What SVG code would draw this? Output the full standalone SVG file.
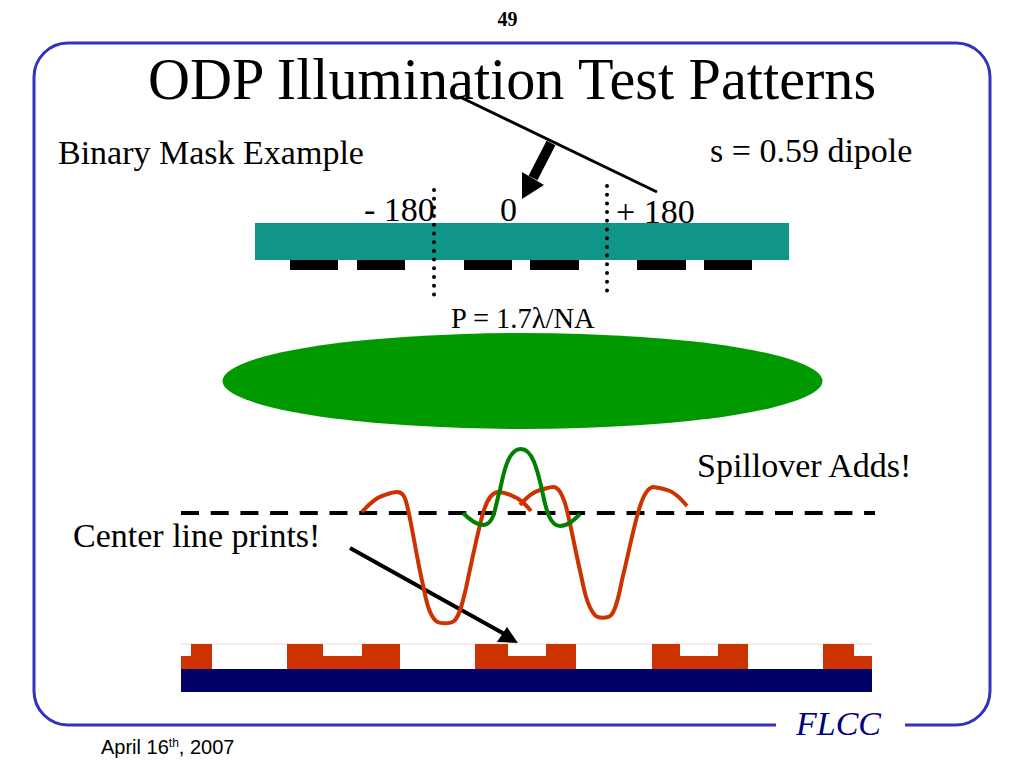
<svg xmlns="http://www.w3.org/2000/svg" width="1024" height="768" viewBox="0 0 1024 768">
<style>
text{font-family:"Liberation Serif","Times New Roman",serif;fill:#000}
.frame{fill:none;stroke:#3333bb;stroke-width:3}
.dots{fill:none;stroke:#000;stroke-width:4;stroke-linecap:round;stroke-dasharray:0 8.7}
.red{fill:none;stroke:#cc3300;stroke-width:4}
.green{fill:none;stroke:#008000;stroke-width:4}
.mask{fill:#000}
.resist{fill:#cc3300}
.big{font-size:34px}
</style>
<rect width="1024" height="768" fill="#fff"/>
<g id="frame"><path class="frame" d="M776 725H68A34 34 0 0 1 34 691V77A34 34 0 0 1 68 43H956A34 34 0 0 1 990 77V691A34 34 0 0 1 956 725H905"/></g>
<g id="page-number"><text x="507.500" y="26" font-size="20" font-weight="bold" text-anchor="middle">49</text></g>
<g id="title"><text x="148" y="99" font-size="58.200">ODP Illumination Test Patterns</text></g>
<g id="labels">
<text class="big" x="58" y="164">Binary Mask Example</text>
<text class="big" x="710" y="162">s = 0.59 dipole</text>
<text class="big" x="364" y="221">- 180</text>
<text class="big" x="500" y="221">0</text>
<text class="big" x="616" y="223">+ 180</text>
<text x="451" y="328" font-size="28.500">P = 1.7λ/NA</text>
<text class="big" x="697" y="477">Spillover Adds!</text>
<text class="big" x="73" y="547">Center line prints!</text>
</g>
<g id="mask">
<rect x="255" y="223" width="534" height="37" fill="#0f9688"/>
<rect class="mask" x="290" y="260" width="48" height="10"/>
<rect class="mask" x="357" y="260" width="48" height="10"/>
<rect class="mask" x="464" y="260" width="48" height="10"/>
<rect class="mask" x="530" y="260" width="49" height="10"/>
<rect class="mask" x="637" y="260" width="49" height="10"/>
<rect class="mask" x="704" y="260" width="48" height="10"/>
</g>
<g id="lens"><ellipse cx="522.500" cy="381" rx="300" ry="48" fill="#009900"/></g>
<g id="wafer">
<rect x="181" y="669" width="691" height="23" fill="#000066"/>
<path d="M181 644H872" stroke="#ecd8d0" stroke-width="1" fill="none"/>
<path class="resist" d="M181 669V656H191V644H212V669ZM287 669V644H323V656H362V644H400V669ZM475 669V644H508V656H546V644H576V669ZM652 669V644H680V656H718V644H748V669ZM823 669V644H854V656H872V669Z"/>
</g>
<g id="connectors">
<path class="dots" d="M434 190V296"/>
<path class="dots" d="M607 186V292"/>
<path d="M460 97L657 192" stroke="#000" stroke-width="3" fill="none"/>
<path d="M551 143L533 178" stroke="#000" stroke-width="10" fill="none"/>
<polygon points="522,199 522,172 544,185" fill="#000"/>
<path d="M181 513H875" stroke="#000" stroke-width="4" stroke-dasharray="18 11.700" fill="none"/>
<path d="M350 548L508 636" stroke="#000" stroke-width="4" fill="none"/>
<polygon points="518,643 497,642 507,627" fill="#000"/>
</g>
<g id="curves">
<path class="red" d="M362 512C370 503 376 498 382 496C388 494 392 492 397 492C403 492 405 497 407 505C412 525 417 560 423 585C426 600 429 615 436 621C440 624 450 624 454 621C460 616 463 600 466 588C471 565 477 535 483 513C486 503 490 493 498 492C505 492 510 495 517 498C522 501 527 506 531 511"/>
<path class="red" d="M520 505C526 498 532 492 540 490C545 489 549 487 553 487C559 487 562 495 565 503C570 520 575 550 581 575C584 590 587 605 594 614C597 619 609 619 612 614C617 607 620 590 622 580C627 560 633 530 638 513C641 502 646 488 653 487C660 488 665 489 670 491C677 494 682 500 687 506"/>
<path class="green" d="M463 513C470 520 477 525 483 525C495 525 495 505 500 490C505 465 510 449 521 449C532 449 537 468 542 490C546 510 550 526 560 526C568 526 574 520 580 514"/>
</g>
<g id="footer">
<text x="101" y="754" font-size="20" style="font-family:'Liberation Sans',Arial,sans-serif">April 16<tspan font-size="12" dy="-7">th</tspan><tspan dy="7">, 2007</tspan></text>
<text x="796" y="735" font-size="34" font-style="italic" style="fill:#000080">FLCC</text>
</g>
</svg>
